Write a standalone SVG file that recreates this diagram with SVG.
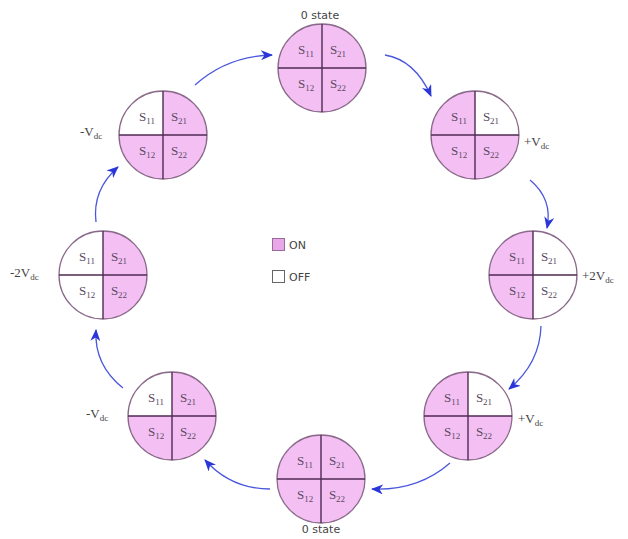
<svg xmlns="http://www.w3.org/2000/svg" xmlns:xlink="http://www.w3.org/1999/xlink" width="628" height="539" viewBox="0 0 628 539">
<style>
.on{fill:#f4c0f4}
.off{fill:#ffffff}
.rim{fill:none;stroke:#8a6a8a;stroke-width:1.3}
.cross{stroke:#4e2a52;stroke-width:1.4}
.q{font-family:"Liberation Serif","DejaVu Serif",serif;font-size:13px;fill:#5a4a5e;text-anchor:middle}
.sub{font-size:9px}
.lbl{font-family:"DejaVu Sans","Liberation Sans",sans-serif;font-size:11px;fill:#444}
.vl{font-family:"Liberation Serif","DejaVu Serif",serif;font-size:13px;fill:#444}
.arrow{fill:none;stroke:#4a58dc;stroke-width:1.3;marker-end:url(#ah)}
</style>
<defs>
<marker id="ah" viewBox="0 0 12 10" refX="11" refY="5" markerWidth="12" markerHeight="10" markerUnits="userSpaceOnUse" orient="auto">
<path d="M0,0 L12,5 L0,10 L3.5,5 Z" fill="#2a36d8"/>
</marker>
<path id="qTL" d="M0,0 L-44,0 A44,44 0 0 1 0,-44 Z"/>
<path id="qTR" d="M0,0 L0,-44 A44,44 0 0 1 44,0 Z"/>
<path id="qBR" d="M0,0 L44,0 A44,44 0 0 1 0,44 Z"/>
<path id="qBL" d="M0,0 L0,44 A44,44 0 0 1 -44,0 Z"/>
<g id="frame">
<circle r="44" class="rim"/>
<line x1="-44" y1="0" x2="44" y2="0" class="cross"/>
<line x1="0" y1="-44" x2="0" y2="44" class="cross"/>
<text x="-16" y="-14" class="q">S<tspan class="sub" dy="3">11</tspan></text>
<text x="16" y="-14" class="q">S<tspan class="sub" dy="3">21</tspan></text>
<text x="-16" y="20" class="q">S<tspan class="sub" dy="3">12</tspan></text>
<text x="16" y="20" class="q">S<tspan class="sub" dy="3">22</tspan></text>
</g>
</defs>

<g id="connectors">
<path class="arrow" d="M385,55 Q415,60 431,96"/>
<path class="arrow" d="M530,180 Q553,199 547,228"/>
<path class="arrow" d="M541,326 Q540,363 509,389"/>
<path class="arrow" d="M450,463 Q418,491 372,489"/>
<path class="arrow" d="M270,489 Q231,489 205,460"/>
<path class="arrow" d="M123,388 Q94,365 96,330"/>
<path class="arrow" d="M96,222 Q92,190 118,167"/>
<path class="arrow" d="M195,85 Q227,56 272,55"/>
</g>

<g id="node-top" transform="translate(322,68)">
<use xlink:href="#qTL" class="on"/><use xlink:href="#qTR" class="on"/><use xlink:href="#qBL" class="on"/><use xlink:href="#qBR" class="on"/>
<use xlink:href="#frame"/>
</g>
<text class="lbl" x="320" y="19" text-anchor="middle">0 state</text>

<g id="node-tr" transform="translate(475,135)">
<use xlink:href="#qTL" class="on"/><use xlink:href="#qTR" class="off"/><use xlink:href="#qBL" class="on"/><use xlink:href="#qBR" class="on"/>
<use xlink:href="#frame"/>
</g>
<text class="vl" x="524" y="146">+V<tspan class="sub" dy="3">dc</tspan></text>

<g id="node-r" transform="translate(533,275)">
<use xlink:href="#qTL" class="on"/><use xlink:href="#qTR" class="off"/><use xlink:href="#qBL" class="on"/><use xlink:href="#qBR" class="off"/>
<use xlink:href="#frame"/>
</g>
<text class="vl" x="582" y="280">+2V<tspan class="sub" dy="3">dc</tspan></text>

<g id="node-br" transform="translate(468,416)">
<use xlink:href="#qTL" class="on"/><use xlink:href="#qTR" class="off"/><use xlink:href="#qBL" class="on"/><use xlink:href="#qBR" class="on"/>
<use xlink:href="#frame"/>
</g>
<text class="vl" x="518" y="423">+V<tspan class="sub" dy="3">dc</tspan></text>

<g id="node-bottom" transform="translate(321,479)">
<use xlink:href="#qTL" class="on"/><use xlink:href="#qTR" class="on"/><use xlink:href="#qBL" class="on"/><use xlink:href="#qBR" class="on"/>
<use xlink:href="#frame"/>
</g>
<text class="lbl" x="321" y="533" text-anchor="middle">0 state</text>

<g id="node-bl" transform="translate(172,416)">
<use xlink:href="#qTL" class="off"/><use xlink:href="#qTR" class="on"/><use xlink:href="#qBL" class="on"/><use xlink:href="#qBR" class="on"/>
<use xlink:href="#frame"/>
</g>
<text class="vl" x="86" y="418">-V<tspan class="sub" dy="3">dc</tspan></text>

<g id="node-l" transform="translate(103,275)">
<use xlink:href="#qTL" class="off"/><use xlink:href="#qTR" class="on"/><use xlink:href="#qBL" class="off"/><use xlink:href="#qBR" class="on"/>
<use xlink:href="#frame"/>
</g>
<text class="vl" x="10" y="277">-2V<tspan class="sub" dy="3">dc</tspan></text>

<g id="node-tl" transform="translate(163,135)">
<use xlink:href="#qTL" class="off"/><use xlink:href="#qTR" class="on"/><use xlink:href="#qBL" class="on"/><use xlink:href="#qBR" class="on"/>
<use xlink:href="#frame"/>
</g>
<text class="vl" x="80" y="136">-V<tspan class="sub" dy="3">dc</tspan></text>

<g id="legend">
<rect x="272.500" y="238.500" width="12" height="12" fill="#e8a8e8" stroke="#9a6a9a"/>
<text class="lbl" x="289" y="249">ON</text>
<rect x="272.500" y="270.500" width="12" height="12" fill="#fff" stroke="#666"/>
<text class="lbl" x="289" y="281">OFF</text>
</g>
</svg>
